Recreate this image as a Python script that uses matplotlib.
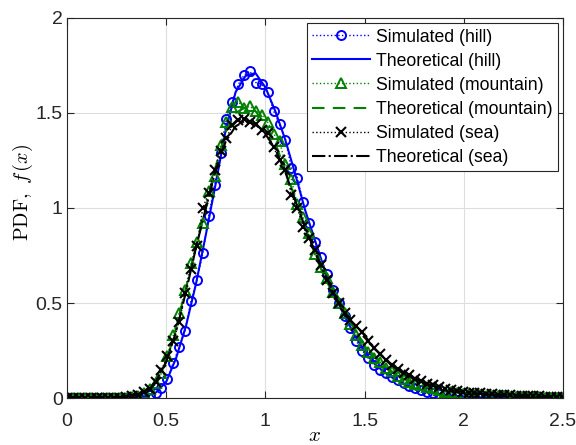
import numpy as np
import matplotlib
matplotlib.use("Agg")
import matplotlib.pyplot as plt

plt.rcParams['font.family'] = ['Liberation Sans', 'DejaVu Sans']
plt.rcParams['mathtext.fontset'] = 'cm'

# ---------------- data ----------------
# theoretical curves, sampled every 0.05 from 0 to 2.5
x_theo = np.round(np.arange(0, 51) * 0.05, 2)
hill_theo = [0, 0, 0, 0, 0, 0, 0, 0.002, 0.01, 0.03,
             0.085, 0.21, 0.38, 0.60, 0.86, 1.13, 1.41, 1.61, 1.695, 1.71,
             1.635, 1.51, 1.36, 1.18, 0.99, 0.83, 0.67, 0.535, 0.43, 0.33,
             0.245, 0.18, 0.135, 0.10, 0.072, 0.052, 0.037, 0.026, 0.018, 0.012,
             0.008, 0.005, 0.003, 0.002, 0.001, 0, 0, 0, 0, 0, 0]
mountain_theo = [0, 0, 0, 0, 0, 0, 0.003, 0.012, 0.035, 0.085,
                 0.19, 0.37, 0.58, 0.80, 1.00, 1.22, 1.40, 1.50, 1.53, 1.51,
                 1.44, 1.34, 1.20, 1.05, 0.90, 0.755, 0.63, 0.535, 0.45, 0.36,
                 0.28, 0.22, 0.17, 0.13, 0.10, 0.078, 0.062, 0.048, 0.036, 0.027,
                 0.021, 0.016, 0.012, 0.009, 0.007, 0.005, 0.004, 0.003, 0.002, 0.002,
                 0.001]
sea_theo = [0, 0, 0, 0, 0, 0.002, 0.006, 0.016, 0.038, 0.09,
            0.19, 0.35, 0.56, 0.79, 1.00, 1.20, 1.35, 1.43, 1.46, 1.44,
            1.39, 1.31, 1.19, 1.04, 0.90, 0.77, 0.65, 0.54, 0.44, 0.385,
            0.33, 0.26, 0.21, 0.165, 0.133, 0.106, 0.081, 0.064, 0.05, 0.04,
            0.032, 0.026, 0.022, 0.018, 0.015, 0.012, 0.01, 0.008, 0.006, 0.005,
            0.004]

# simulated (histogram) values, 85 bins from 0 to 2.5
x_sim = np.linspace(0, 2.5, 85)
hill_sim = [0, 0, 0, 0, 0, 0, 0, 0, 0, 0,
            0, 0.001, 0.003, 0.007, 0.015, 0.028, 0.055, 0.10, 0.186, 0.267,
            0.354, 0.512, 0.621, 0.761, 0.96, 1.12, 1.29, 1.47, 1.56, 1.65,
            1.70, 1.72, 1.66, 1.65, 1.61, 1.51, 1.44, 1.36, 1.21, 1.16,
            1.03, 0.92, 0.82, 0.74, 0.65, 0.57, 0.50, 0.43, 0.37, 0.30,
            0.25, 0.21, 0.175, 0.15, 0.13, 0.11, 0.095, 0.08, 0.062, 0.052,
            0.04, 0.034, 0.025, 0.02, 0.015, 0.012, 0.009, 0.007, 0.005, 0.004,
            0.003, 0.002, 0.002, 0.001, 0.001, 0, 0, 0, 0, 0,
            0, 0, 0, 0, 0]
mountain_sim = [0, 0, 0, 0, 0, 0, 0, 0, 0, 0,
                0.002, 0.005, 0.012, 0.025, 0.045, 0.08, 0.13, 0.22, 0.33, 0.45,
                0.57, 0.71, 0.82, 0.92, 1.09, 1.17, 1.33, 1.45, 1.53, 1.56,
                1.525, 1.535, 1.51, 1.49, 1.45, 1.39, 1.35, 1.23, 1.15, 1.02,
                0.95, 0.87, 0.76, 0.69, 0.63, 0.56, 0.50, 0.45, 0.39, 0.33,
                0.28, 0.24, 0.21, 0.19, 0.16, 0.14, 0.115, 0.10, 0.086, 0.075,
                0.066, 0.058, 0.051, 0.04, 0.033, 0.029, 0.025, 0.022, 0.019, 0.016,
                0.014, 0.012, 0.01, 0.009, 0.008, 0.006, 0.005, 0.005, 0.004, 0.003,
                0.003, 0.002, 0.002, 0.002, 0.001]
sea_sim = [0, 0, 0, 0, 0, 0, 0, 0, 0, 0.002,
           0.005, 0.01, 0.018, 0.03, 0.05, 0.086, 0.147, 0.22, 0.30, 0.40,
           0.55, 0.68, 0.80, 1.00, 1.08, 1.20, 1.30, 1.367, 1.437, 1.463,
           1.467, 1.454, 1.44, 1.411, 1.395, 1.32, 1.25, 1.20, 1.068, 1.00,
           0.90, 0.84, 0.78, 0.70, 0.62, 0.555, 0.50, 0.45, 0.41, 0.38,
           0.345, 0.30, 0.265, 0.232, 0.20, 0.175, 0.152, 0.133, 0.12, 0.10,
           0.087, 0.075, 0.066, 0.056, 0.048, 0.042, 0.037, 0.032, 0.028, 0.026,
           0.024, 0.021, 0.02, 0.018, 0.016, 0.014, 0.012, 0.011, 0.01, 0.009,
           0.008, 0.007, 0.006, 0.005, 0.005]

labels = ['Simulated (hill)', 'Theoretical (hill)',
          'Simulated (mountain)', 'Theoretical (mountain)',
          'Simulated (sea)', 'Theoretical (sea)']
xticks = [0, 0.5, 1, 1.5, 2, 2.5]
yticks = [0, 0.5, 1, 1.5, 2]
xtick_labels = ['0', '0.5', '1', '1.5', '2', '2.5']
ytick_labels = ['0', '0.5', '1', '1.5', '2']

# ---------------- plot ----------------
fig = plt.figure(figsize=(5.76, 4.45), dpi=100)
ax = fig.add_axes([0.1163, 0.1056, 0.8611, 0.854])

green = (0, 0.5, 0)
ax.plot(x_sim, hill_sim, ':', color='b', marker='o', ms=6.5, mfc='none',
        mew=1.4, lw=1.0, label=labels[0])
ax.plot(x_theo, hill_theo, '-', color='b', lw=1.5, label=labels[1])
ax.plot(x_sim, mountain_sim, ':', color=green, marker='^', ms=6.5, mfc='none',
        mew=1.4, lw=1.0, label=labels[2])
ax.plot(x_theo, mountain_theo, '--', color=green, lw=1.5, dashes=(6, 4),
        label=labels[3])
ax.plot(x_sim, sea_sim, ':', color='k', marker='x', ms=7, mew=1.5, lw=1.0,
        label=labels[4])
ax.plot(x_theo, sea_theo, '-.', color='k', lw=1.5, label=labels[5])

ax.set_xlim(0, 2.5)
ax.set_ylim(0, 2)
ax.set_xticks(xticks)
ax.set_xticklabels(xtick_labels)
ax.set_yticks(yticks)
ax.set_yticklabels(ytick_labels)

ax.grid(True, color=(0.87, 0.87, 0.87), lw=0.8)
ax.set_axisbelow(True)
for s in ax.spines.values():
    s.set_color((0.15, 0.15, 0.15))
    s.set_linewidth(0.8)
ax.tick_params(direction='in', length=5, width=0.8, top=True, right=True,
               labelsize=14, colors=(0.15, 0.15, 0.15))
ax.tick_params(axis='x', pad=11)
ax.tick_params(axis='y', pad=3)

ax.set_xlabel(r'$x$', fontsize=15)
ax.xaxis.set_label_coords(0.5, -0.074)
ax.set_ylabel(r'$\mathrm{PDF},\ f\,(x)$', fontsize=14.5)
ax.yaxis.set_label_coords(-0.064, 0.54)

leg = ax.legend(loc='upper right', fontsize=12.7, handlelength=3.3,
                handletextpad=0.3, borderpad=0.3, labelspacing=0.4,
                fancybox=False, framealpha=1, edgecolor=(0.15, 0.15, 0.15),
                borderaxespad=0.3, numpoints=1)
leg.get_frame().set_linewidth(0.8)

fig.savefig('out.png', dpi=100)
